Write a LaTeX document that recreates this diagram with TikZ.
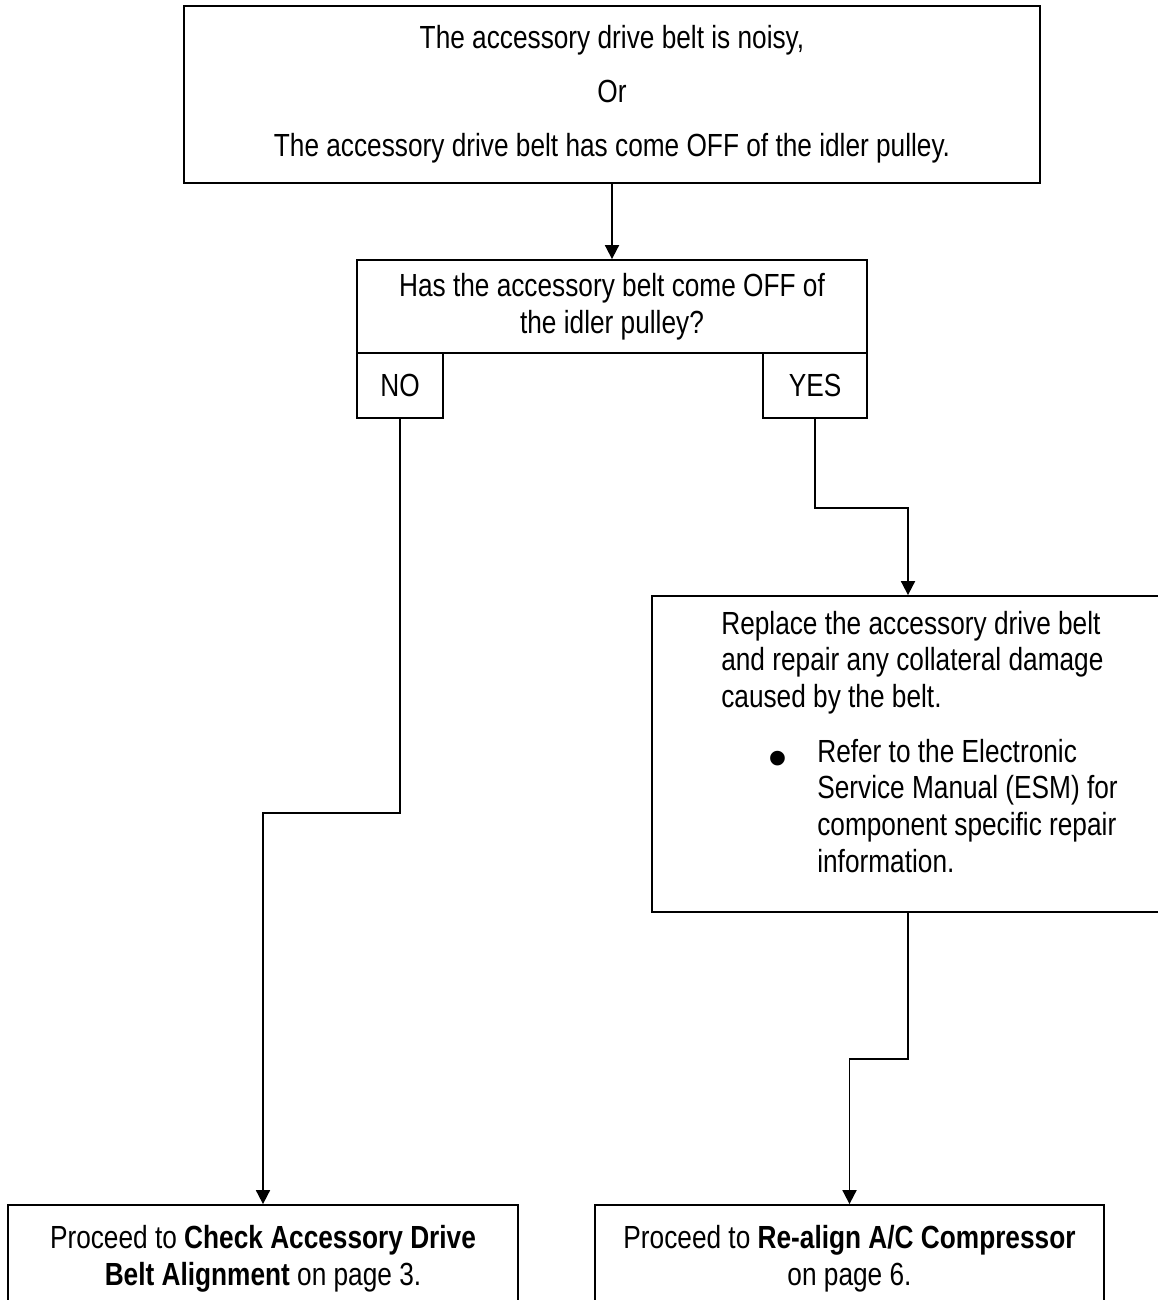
\documentclass[tikz,border=0pt]{standalone}
\usepackage{fontspec}
\setmainfont[FakeStretch=0.82]{Liberation Sans}
\newfontfamily\dotfont{Liberation Sans}
\usepackage{tikz}
\usetikzlibrary{positioning, arrows.meta}

\tikzset{
  box/.style = {draw, rectangle, line width=1.8pt, inner sep=0pt, align=center,
                font=\fontsize{32}{37}\selectfont},
  flow/.style = {-{Triangle[length=14pt,width=14pt]}, line width=1.8pt},
}

\begin{document}
\begin{tikzpicture}[x=1pt, y=-1pt]
\useasboundingbox (0,0) rectangle (1158,1300);

% boxes
\node (top) [box, minimum width=856pt, minimum height=177pt] at (612,94.5)
  {The accessory drive belt is noisy,\\[17pt] Or\\[17pt]
   The accessory drive belt has come OFF of the idler pulley.};
\node (q) [box, minimum width=510pt, minimum height=93pt] at (612,306.5)
  {Has the accessory belt come OFF of\\ the idler pulley?};
\node (no) [box, minimum width=86pt, minimum height=65pt] at (400,385.5) {NO};
\node (yes) [box, minimum width=104pt, minimum height=65pt] at (815,385.5) {YES};
\node (replace) [box, minimum width=512pt, minimum height=316pt] at (908,754) {};
\node (replacetext) [below right=15.6pt and 70pt of replace.north west, anchor=north west,
                     inner sep=0pt, align=left, font=\fontsize{32}{36.7}\selectfont]
  {Replace the accessory drive belt\\
   and repair any collateral damage\\
   caused by the belt.\\[18pt]
   \hspace*{47pt}\makebox[49pt][l]{\raisebox{-14pt}[0pt][0pt]{\dotfont\fontsize{54}{37}\selectfont\textbullet}}Refer to the Electronic\\
   \hspace*{96pt}Service Manual (ESM) for\\
   \hspace*{96pt}component specific repair\\
   \hspace*{96pt}information.};
\node (checkbelt) [box, minimum width=510pt, minimum height=107pt] at (263,1258.5)
  {Proceed to \textbf{Check Accessory Drive}\\ \textbf{Belt Alignment} on page 3.};
\node (realign) [box, minimum width=509pt, minimum height=107pt] at (849.5,1258.5)
  {Proceed to \textbf{Re-align A/C Compressor}\\ on page 6.};

% connectors
\draw [flow] (top) -- (q);
\draw [flow] (no.south) -- ++(0,394) -| (checkbelt.north);
\draw [flow] (yes.south) -- ++(0,89) -| (replace.north);
\draw [flow] (replace.south) -- ++(0,146) -| (realign.north);
\end{tikzpicture}
\end{document}
